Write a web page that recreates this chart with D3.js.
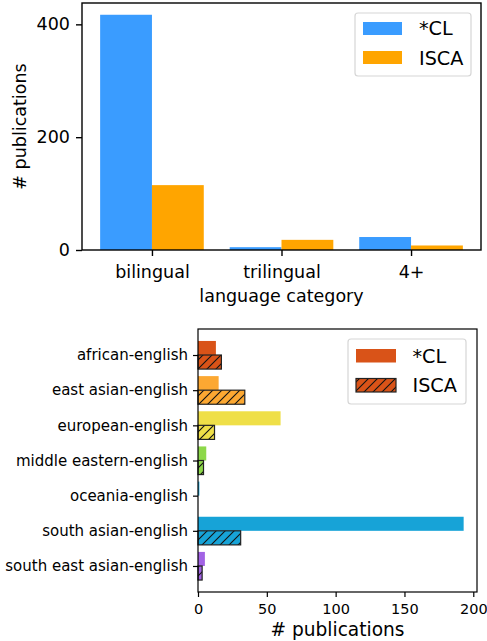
<!DOCTYPE html>
<html>
<head>
<meta charset="utf-8">
<script src="https://cdn.jsdelivr.net/npm/d3@7"></script>
<style>
  body { margin: 0; background: #fff; }
  svg { display: block; font-family: "DejaVu Sans", sans-serif; }
</style>
</head>
<body>
<script>
// top chart data
var categories = ["bilingual", "trilingual", "4+"];
var clCounts = [417, 5, 23];
var iscaCounts = [115, 18, 8];
var topTicks = [0, 200, 400];

// bottom chart data
var regions = ["african-english", "east asian-english", "european-english",
               "middle eastern-english", "oceania-english", "south asian-english",
               "south east asian-english"];
var regionCL = [13, 15, 60, 6, 1, 193, 5];
var regionISCA = [17, 34, 12, 4, 0, 31, 3];
var regionColors = ["#d95318", "#fca832", "#efdf48", "#8dd84a", "#1ba6d8", "#17a3d7", "#a263e4"];
var bottomTicks = [0, 50, 100, 150, 200];

var width = 487, height = 641;

var svg = d3.select("body")
    .append("svg")
    .attr("width", width)
    .attr("height", height);

// hatch pattern for ISCA bars
svg.append("defs").append("pattern")
    .attr("id", "hatch")
    .attr("patternUnits", "userSpaceOnUse")
    .attr("width", 9)
    .attr("height", 9)
    .append("path")
    .attr("d", "M0,9 L9,0 M-2,2 L2,-2 M7,11 L11,7")
    .attr("stroke", "#111")
    .attr("stroke-width", 1.1);

//---------------- top chart ----------------
var t = {left: 82, right: 481, top: 3, bottom: 250};
var barW = 0.4;

var x1 = d3.scaleLinear()
    .domain([-0.54, 2.54])
    .range([t.left, t.right]);
var y1 = d3.scaleLinear()
    .domain([0, 437.85])
    .range([t.bottom, t.top]);

var topG = svg.append("g");

topG.selectAll(".cl")
    .data(clCounts)
    .enter()
    .append("rect")
    .attr("class", "cl")
    .attr("x", function(d, i){ return x1(i - barW); })
    .attr("width", x1(barW) - x1(0))
    .attr("y", function(d){ return y1(d); })
    .attr("height", function(d){ return y1(0) - y1(d); })
    .attr("fill", "#3a9cff");

topG.selectAll(".isca")
    .data(iscaCounts)
    .enter()
    .append("rect")
    .attr("class", "isca")
    .attr("x", function(d, i){ return x1(i); })
    .attr("width", x1(barW) - x1(0))
    .attr("y", function(d){ return y1(d); })
    .attr("height", function(d){ return y1(0) - y1(d); })
    .attr("fill", "#ffa500");

topG.append("rect")
    .attr("x", t.left).attr("y", t.top)
    .attr("width", t.right - t.left).attr("height", t.bottom - t.top)
    .attr("fill", "none").attr("stroke", "#000").attr("stroke-width", 1.4);

var xAxis1 = topG.append("g")
    .attr("transform", "translate(0," + t.bottom + ")")
    .call(d3.axisBottom(x1).tickValues([0, 1, 2])
        .tickFormat(function(d){ return categories[d]; })
        .tickSize(6).tickPadding(6));
var yAxis1 = topG.append("g")
    .attr("transform", "translate(" + t.left + ",0)")
    .call(d3.axisLeft(y1).tickValues(topTicks).tickSize(6).tickPadding(6));

[xAxis1, yAxis1].forEach(function(a){
    a.select(".domain").remove();
    a.selectAll("line").attr("stroke", "#000").attr("stroke-width", 1.4);
    a.selectAll("text").attr("fill", "#000").style("font-size", "17.5px")
        .style("font-family", "DejaVu Sans");
});
xAxis1.selectAll("text").attr("dy", "0.9em");

topG.append("text")
    .attr("x", (t.left + t.right) / 2).attr("y", 301.5)
    .attr("text-anchor", "middle")
    .style("font-size", "17.5px")
    .text("language category");

topG.append("text")
    .attr("transform", "translate(26," + ((t.top + t.bottom) / 2) + ") rotate(-90)")
    .attr("text-anchor", "middle")
    .style("font-size", "17.5px")
    .text("# publications");

// top legend
var lg1 = topG.append("g");
lg1.append("rect")
    .attr("x", 355).attr("y", 13).attr("width", 116).attr("height", 63)
    .attr("rx", 3).attr("fill", "#fff").attr("fill-opacity", 0.8)
    .attr("stroke", "#d6d6d6").attr("stroke-width", 1.2);
lg1.append("rect").attr("x", 363).attr("y", 22).attr("width", 39).attr("height", 13)
    .attr("fill", "#3a9cff");
lg1.append("rect").attr("x", 363).attr("y", 51).attr("width", 39).attr("height", 13)
    .attr("fill", "#ffa500");
lg1.append("text").attr("x", 419).attr("y", 35).style("font-size", "19.2px").text("*CL");
lg1.append("text").attr("x", 419).attr("y", 64.5).style("font-size", "19.2px").text("ISCA");

//---------------- bottom chart ----------------
var b = {left: 198, right: 477, top: 329, bottom: 592};

var x2 = d3.scaleLinear()
    .domain([0, 202.7])
    .range([b.left, b.right]);
var y2 = d3.scaleLinear()
    .domain([-0.74, 6.74])
    .range([b.top, b.bottom]);

var bot = svg.append("g");

bot.selectAll(".rcl")
    .data(regionCL)
    .enter()
    .append("rect")
    .attr("class", "rcl")
    .attr("x", x2(0))
    .attr("width", function(d){ return x2(d) - x2(0); })
    .attr("y", function(d, i){ return y2(i - barW); })
    .attr("height", y2(barW) - y2(0))
    .attr("fill", function(d, i){ return regionColors[i]; });

var isca = bot.selectAll(".risca")
    .data(regionISCA)
    .enter()
    .append("g")
    .attr("class", "risca");
isca.append("rect")
    .attr("x", x2(0))
    .attr("width", function(d){ return x2(d) - x2(0); })
    .attr("y", function(d, i){ return y2(i); })
    .attr("height", y2(barW) - y2(0))
    .attr("fill", function(d, i){ return regionColors[i]; });
isca.append("rect")
    .attr("x", x2(0))
    .attr("width", function(d){ return x2(d) - x2(0); })
    .attr("y", function(d, i){ return y2(i); })
    .attr("height", y2(barW) - y2(0))
    .attr("fill", "url(#hatch)")
    .attr("stroke", function(d){ return d > 0 ? "#222" : "none"; })
    .attr("stroke-width", 1.2);

bot.append("rect")
    .attr("x", b.left).attr("y", b.top)
    .attr("width", b.right - b.left).attr("height", b.bottom - b.top)
    .attr("fill", "none").attr("stroke", "#000").attr("stroke-width", 1.2);

var xAxis2 = bot.append("g")
    .attr("transform", "translate(0," + b.bottom + ")")
    .call(d3.axisBottom(x2).tickValues(bottomTicks).tickSize(5).tickPadding(5));
var yAxis2 = bot.append("g")
    .attr("transform", "translate(" + b.left + ",0)")
    .call(d3.axisLeft(y2).tickValues(d3.range(regions.length))
        .tickFormat(function(d){ return regions[d]; })
        .tickSize(5).tickPadding(5));

[xAxis2, yAxis2].forEach(function(a){
    a.select(".domain").remove();
    a.selectAll("line").attr("stroke", "#000").attr("stroke-width", 1.2);
    a.selectAll("text").attr("fill", "#000").style("font-size", "15px")
        .style("font-family", "DejaVu Sans");
});
xAxis2.selectAll("text").style("font-size", "14.5px").attr("dy", "0.85em");

bot.append("text")
    .attr("x", (b.left + b.right) / 2).attr("y", 636)
    .attr("text-anchor", "middle")
    .style("font-size", "18.6px")
    .text("# publications");

// bottom legend
var lg2 = bot.append("g");
lg2.append("rect")
    .attr("x", 348).attr("y", 339).attr("width", 118).attr("height", 65)
    .attr("rx", 3).attr("fill", "#fff").attr("fill-opacity", 0.8)
    .attr("stroke", "#d6d6d6").attr("stroke-width", 1.2);
lg2.append("rect").attr("x", 356).attr("y", 349).attr("width", 40).attr("height", 13.5)
    .attr("fill", regionColors[0]);
lg2.append("rect").attr("x", 356).attr("y", 378.5).attr("width", 40).attr("height", 13.5)
    .attr("fill", regionColors[0]);
lg2.append("rect").attr("x", 356).attr("y", 378.5).attr("width", 40).attr("height", 13.5)
    .attr("fill", "url(#hatch)").attr("stroke", "#222").attr("stroke-width", 1.2);
lg2.append("text").attr("x", 412.5).attr("y", 363).style("font-size", "19.2px").text("*CL");
lg2.append("text").attr("x", 412.5).attr("y", 392).style("font-size", "19.2px").text("ISCA");
</script>
</body>
</html>
